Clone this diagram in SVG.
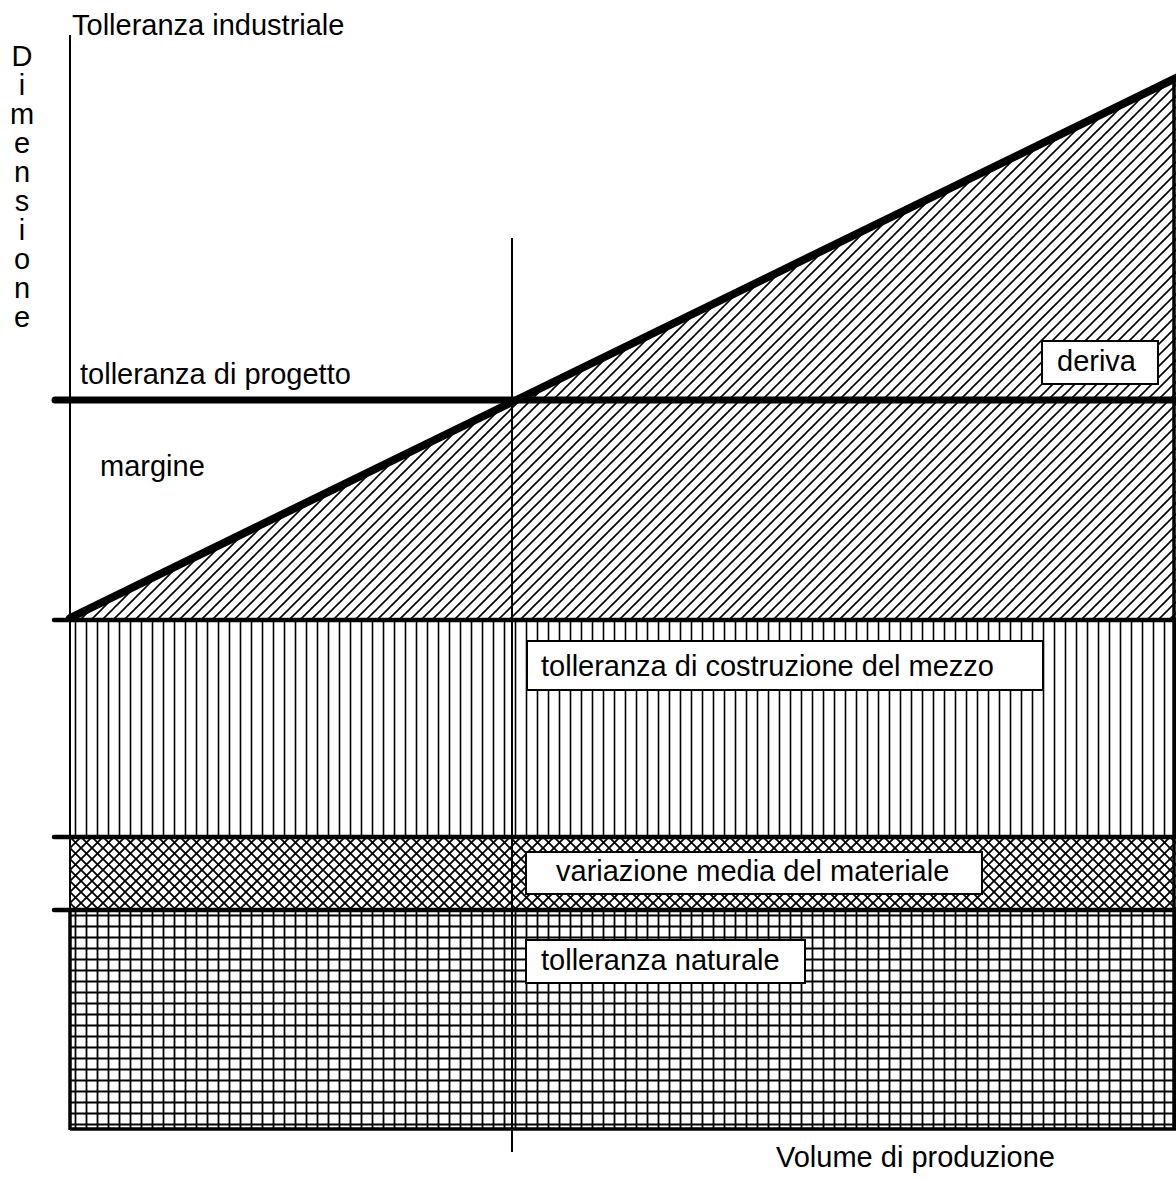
<svg xmlns="http://www.w3.org/2000/svg" width="1176" height="1179" viewBox="0 0 1176 1179">
  <style>
    text { font-family: "Liberation Sans", Arial, sans-serif; font-size: 29px; fill: #000; }
    .box { fill: #fff; stroke: #000; stroke-width: 2; }
    .thin { stroke: #000; stroke-width: 2; fill: none; }
    .thick { stroke: #000; stroke-width: 7; stroke-linecap: round; fill: none; }
    .slope { stroke: #000; stroke-width: 8; stroke-linecap: round; fill: none; }
    .mid { stroke: #000; stroke-width: 4.5; stroke-linecap: round; fill: none; }
  </style>
  <defs>
    <pattern id="diag" width="11" height="11" patternUnits="userSpaceOnUse" x="69" y="620">
      <path d="M-1,12 L12,-1 M-1,1 L1,-1 M10,12 L12,10" stroke="#000" stroke-width="1.6"/>
    </pattern>
    <pattern id="vert" width="11" height="11" patternUnits="userSpaceOnUse" x="70" y="0">
      <path d="M5.5,0 V11" stroke="#000" stroke-width="1.6"/>
    </pattern>
    <pattern id="cross" width="11" height="11" patternUnits="userSpaceOnUse" x="70" y="837">
      <path d="M-1,12 L12,-1 M-1,-1 L12,12" stroke="#000" stroke-width="1.8"/>
    </pattern>
    <pattern id="grid" width="11" height="11" patternUnits="userSpaceOnUse" x="70" y="910">
      <path d="M5.5,0 V11 M0,5.5 H11" stroke="#000" stroke-width="1.8"/>
    </pattern>
  </defs>

  <!-- shaded bands -->
  <g id="bands">
    <polygon id="drift-area" points="69,620 1176,78 1176,620" fill="url(#diag)"/>
    <rect id="machine-band" x="70" y="620" width="1106" height="217" fill="url(#vert)"/>
    <rect id="material-band" x="70" y="837" width="1106" height="73" fill="url(#cross)"/>
    <rect id="natural-band" x="70" y="910" width="1106" height="219" fill="url(#grid)"/>
  </g>

  <!-- axes and reference lines -->
  <g id="connectors">
    <line class="thin" x1="70" y1="35" x2="70" y2="1130"/>
    <line x1="70" y1="910" x2="70" y2="1130" stroke="#000" stroke-width="3.5"/>
    <line x1="70" y1="1129" x2="1176" y2="1129" stroke="#000" stroke-width="3.5"/>
    <line x1="1174" y1="80" x2="1174" y2="1130" stroke="#000" stroke-width="3.5"/>
    <line class="thin" x1="512" y1="238" x2="512" y2="1152"/>
    <line class="thick" x1="55" y1="400" x2="1180" y2="400"/>
    <line class="mid" x1="54" y1="620" x2="1180" y2="620"/>
    <line class="mid" x1="54" y1="837" x2="1180" y2="837"/>
    <line class="mid" x1="54" y1="910" x2="1180" y2="910"/>
    <line class="slope" x1="70" y1="618" x2="1180" y2="76"/>
  </g>

  <!-- axis titles -->
  <g id="axis-labels">
    <text x="72" y="35">Tolleranza industriale</text>
    <text x="776" y="1167">Volume di produzione</text>
    <text id="y-title" text-anchor="middle"><tspan x="22" y="66">D</tspan><tspan x="22" dy="29">i</tspan><tspan x="22" dy="29">m</tspan><tspan x="22" dy="29">e</tspan><tspan x="22" dy="29">n</tspan><tspan x="22" dy="29">s</tspan><tspan x="22" dy="29">i</tspan><tspan x="22" dy="29">o</tspan><tspan x="22" dy="29">n</tspan><tspan x="22" dy="29">e</tspan></text>
  </g>

  <g id="label-progetto"><text x="80" y="384">tolleranza di progetto</text></g>
  <g id="label-margine"><text x="100" y="476">margine</text></g>

  <g id="node-deriva">
    <rect class="box" x="1042" y="341" width="116" height="43"/>
    <text x="1057" y="371">deriva</text>
  </g>
  <g id="node-costruzione">
    <rect class="box" x="527" y="641" width="516" height="49"/>
    <text x="541" y="676">tolleranza di costruzione del mezzo</text>
  </g>
  <g id="node-materiale">
    <rect class="box" x="526" y="852" width="456" height="42"/>
    <text x="556" y="881">variazione media del materiale</text>
  </g>
  <g id="node-naturale">
    <rect class="box" x="526" y="940" width="279" height="43"/>
    <text x="541" y="970">tolleranza naturale</text>
  </g>
</svg>
